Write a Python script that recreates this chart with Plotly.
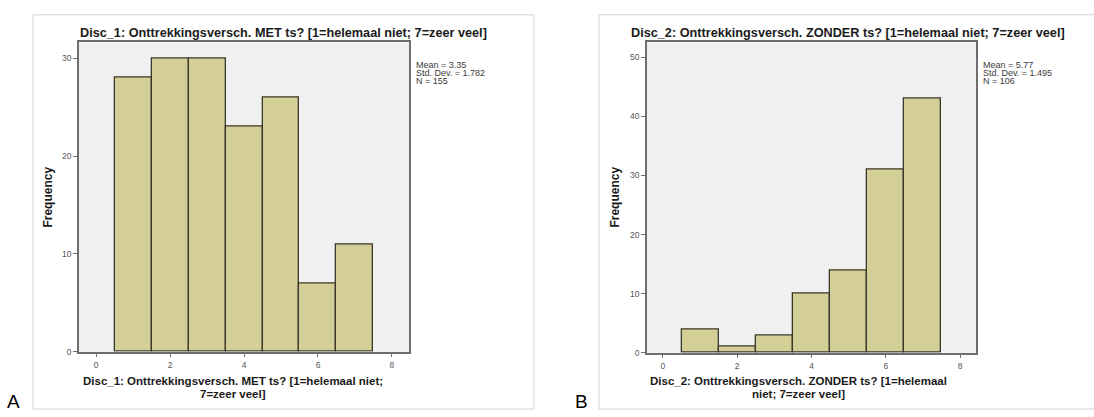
import plotly.graph_objects as go

W, H = 1094, 417

# ---- data ----
scores = [1, 2, 3, 4, 5, 6, 7]
freq_met = [28, 30, 30, 23, 26, 7, 11]
freq_zonder = [4, 1, 3, 10, 14, 31, 43]
x_ticks = [0, 2, 4, 6, 8]
y_ticks_a = [0, 10, 20, 30]
y_ticks_b = [0, 10, 20, 30, 40, 50]
title_a = "Disc_1: Onttrekkingsversch. MET ts? [1=helemaal niet; 7=zeer veel]"
title_b = "Disc_2: Onttrekkingsversch. ZONDER ts? [1=helemaal niet; 7=zeer veel]"
xtitle_a = ["Disc_1: Onttrekkingsversch. MET ts? [1=helemaal niet;", "7=zeer veel]"]
xtitle_b = ["Disc_2: Onttrekkingsversch. ZONDER ts? [1=helemaal", "niet; 7=zeer veel]"]
stats_a = ["Mean = 3.35", "Std. Dev. = 1.782", "N = 155"]
stats_b = ["Mean = 5.77", "Std. Dev. = 1.495", "N = 106"]

FONT = "Liberation Sans, Arial, sans-serif"
BAR = "#D4CF96"
BAR_LINE = "#3A382A"
PLOT_BG = "#F0F0F0"
AXIS = "#6E6E6E"


def px(x):
    return x / W


def py(y):
    return 1 - y / H


fig = go.Figure()
fig.add_trace(go.Bar(x=scores, y=freq_met, width=1, xaxis="x", yaxis="y",
                     marker=dict(color=BAR, line=dict(color=BAR_LINE, width=1.3)),
                     showlegend=False))
fig.add_trace(go.Bar(x=scores, y=freq_zonder, width=1, xaxis="x2", yaxis="y2",
                     marker=dict(color=BAR, line=dict(color=BAR_LINE, width=1.3)),
                     showlegend=False))

common_x = dict(tickvals=x_ticks, ticks="outside", ticklen=4, tickcolor=AXIS,
                tickfont=dict(family=FONT, size=8.5, color="#555555"),
                showline=True, linecolor=AXIS, linewidth=1.5, mirror=True,
                showgrid=False, zeroline=False, fixedrange=True)
common_y = dict(ticks="outside", ticklen=4, tickcolor=AXIS,
                tickfont=dict(family=FONT, size=8.5, color="#555555"),
                showline=True, linecolor=AXIS, linewidth=1.5, mirror=True,
                showgrid=False, zeroline=False, fixedrange=True)

fig.update_layout(
    width=W, height=H,
    margin=dict(l=0, r=0, t=0, b=0),
    paper_bgcolor="white",
    plot_bgcolor=PLOT_BG,
    bargap=0,
    xaxis=dict(domain=[px(79), px(409)], range=[-0.46, 8.46], anchor="y", **common_x),
    yaxis=dict(domain=[py(356), py(43)], range=[0, 31.6], tickvals=y_ticks_a, anchor="x", **common_y),
    xaxis2=dict(domain=[px(647), px(976)], range=[-0.43, 8.43], anchor="y2", **common_x),
    yaxis2=dict(domain=[py(357), py(43)], range=[0, 52.5], tickvals=y_ticks_b, anchor="x2", **common_y),
)

shapes = []
for (x0, x1) in [(33, 534), (599, 1100)]:
    shapes.append(dict(type="rect", xref="paper", yref="paper",
                       x0=px(x0), x1=px(x1), y0=py(414), y1=py(15),
                       line=dict(color="#D4D4D4", width=1), layer="below"))
fig.update_layout(shapes=shapes)

ann = []


def text(x, y, s, size, bold=False, color="#1a1a1a", xanchor="center", angle=0):
    ann.append(dict(x=px(x), y=py(y), xref="paper", yref="paper", text=(f"<b>{s}</b>" if bold else s),
                    showarrow=False, xanchor=xanchor, yanchor="middle", textangle=angle,
                    font=dict(family=FONT, size=size, color=color)))


# titles
text(283.5, 33, title_a, 12.7, bold=True)
text(848, 33, title_b, 12.7, bold=True)
# x-axis titles
text(233, 386, xtitle_a[0], 11.5, bold=True)
text(233, 399, xtitle_a[1], 11.5, bold=True)
text(798, 386, xtitle_b[0], 11.5, bold=True)
text(798, 399, xtitle_b[1], 11.5, bold=True)
# y-axis titles
text(48, 200, "Frequency", 12, bold=True, angle=-90)
text(615, 200, "Frequency", 12, bold=True, angle=-90)
# stats
for i, s in enumerate(stats_a):
    text(414, 66 + i * 8, s, 9, color="#3a3a3a", xanchor="left")
for i, s in enumerate(stats_b):
    text(981, 66 + i * 8, s, 9, color="#3a3a3a", xanchor="left")
# panel letters
text(13, 406, "A", 19, color="#000000")
text(582, 406, "B", 19, color="#000000")

fig.update_layout(annotations=ann)
fig.write_html("out.html")
